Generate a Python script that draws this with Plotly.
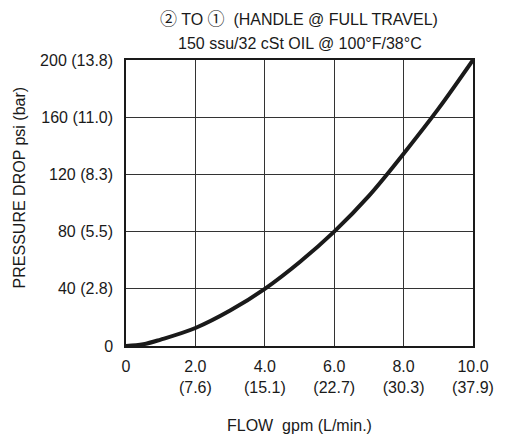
import plotly.graph_objects as go

flow_gpm = [0, 0.5, 1, 2, 3, 4, 5, 6, 7, 8, 9, 10]
pressure_psi = [0, 1.2, 4.5, 12.6, 24.8, 40, 58.6, 80, 105, 134.5, 165.8, 200]

x_tick_vals = [0, 2, 4, 6, 8, 10]
x_tick_text = ["0", "2.0<br>(7.6)", "4.0<br>(15.1)", "6.0<br>(22.7)", "8.0<br>(30.3)", "10.0<br>(37.9)"]
y_tick_vals = [0, 40, 80, 120, 160, 200]
y_tick_text = ["0", "40 (2.8)", "80 (5.5)", "120 (8.3)", "160 (11.0)", "200 (13.8)"]

CJK = "Noto Sans CJK JP"
title_text = (f"<span style='font-family:\"{CJK}\";font-size:17px'>②</span> TO "
              f"<span style='font-family:\"{CJK}\";font-size:17px'>①</span>\u00a0 (HANDLE @ FULL TRAVEL)")
subtitle_text = "150 ssu/32 cSt OIL @ 100°F/38°C"
x_title = "FLOW\u00a0 gpm (L/min.)"
y_title = "PRESSURE DROP psi (bar)"

FONT = "Liberation Sans, Arial, Helvetica, sans-serif"
INK = "#1a1a1a"
FS = 16

W, H = 506, 434
L, R, T, B = 126, 22, 60, 88
pw = W - L - R
ph = H - T - B


def px_x(x):
    return (x - L) / pw


def px_y(y_from_top):
    return (H - y_from_top - B) / ph


fig = go.Figure()
fig.add_trace(go.Scatter(
    x=flow_gpm, y=pressure_psi, mode="lines",
    line=dict(color=INK, width=4, shape="spline", smoothing=1.0),
    hoverinfo="skip", showlegend=False,
))

ann_font = dict(family=FONT, size=FS, color=INK)
fig.update_layout(
    width=W, height=H,
    margin=dict(l=L, r=R, t=T, b=B),
    paper_bgcolor="white", plot_bgcolor="white",
    font=dict(family=FONT, size=FS, color=INK),
    showlegend=False,
    xaxis=dict(
        range=[0, 10], tickvals=x_tick_vals, ticktext=x_tick_text,
        showgrid=True, gridcolor="#333333", gridwidth=1,
        showline=True, linecolor=INK, linewidth=1.5, mirror=True,
        zeroline=False, ticks="", ticklabelstandoff=5,
        tickfont=dict(family=FONT, size=FS, color=INK),
    ),
    yaxis=dict(
        range=[0, 200], tickvals=y_tick_vals, ticktext=y_tick_text,
        showgrid=True, gridcolor="#333333", gridwidth=1,
        showline=True, linecolor=INK, linewidth=1.5, mirror=True,
        zeroline=False, ticks="", ticklabelstandoff=8,
        tickfont=dict(family=FONT, size=FS, color=INK),
    ),
    annotations=[
        dict(text=title_text, x=px_x(304), y=px_y(18), xref="paper", yref="paper",
             xanchor="center", yanchor="middle", showarrow=False, font=ann_font),
        dict(text=subtitle_text, x=px_x(305), y=px_y(44), xref="paper", yref="paper",
             xanchor="center", yanchor="middle", showarrow=False, font=ann_font),
        dict(text=x_title, x=px_x(305), y=px_y(425), xref="paper", yref="paper",
             xanchor="center", yanchor="middle", showarrow=False, font=ann_font),
        dict(text=y_title, x=px_x(16), y=px_y(187), xref="paper", yref="paper",
             xanchor="center", yanchor="middle", showarrow=False, textangle=-90,
             font=ann_font),
    ],
)

fig.write_html("out.html", config={"displayModeBar": False},
               post_script="document.body.style.margin='0';")
